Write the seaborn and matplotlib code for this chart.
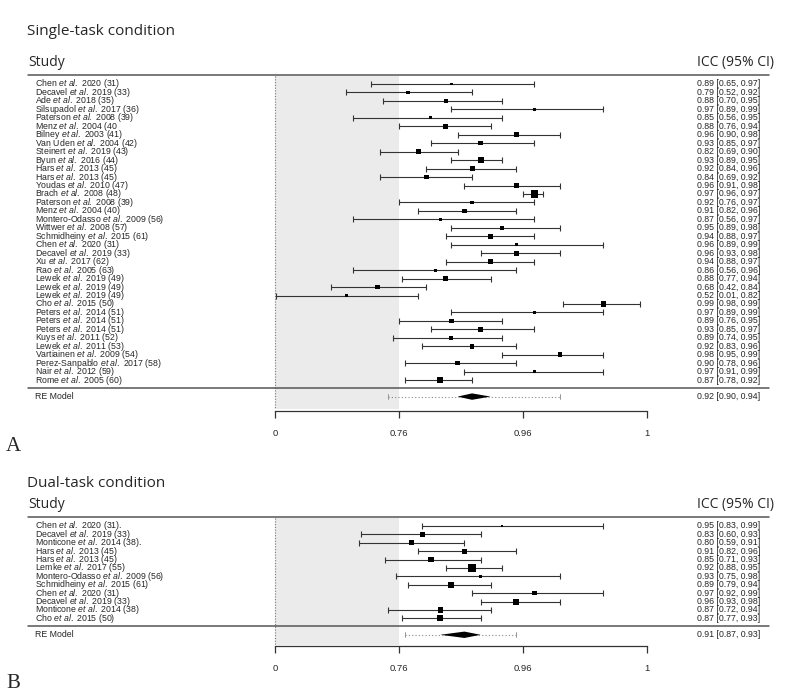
import numpy as np
import pandas as pd
import seaborn as sns
import matplotlib.pyplot as plt


# single-task condition
single_authors = [
    "Chen", "Decavel", "Ade", "Silsupadol", "Paterson", "Menz", "Bilney",
    "Van Uden", "Steinert", "Byun", "Hars", "Hars", "Youdas", "Brach",
    "Paterson", "Menz", "Montero-Odasso", "Wittwer", "Schmidheiny", "Chen",
    "Decavel", "Xu", "Rao", "Lewek", "Lewek", "Lewek", "Cho", "Peters",
    "Peters", "Peters", "Kuys", "Lewek", "Vartiainen", "Perez-Sanpablo",
    "Nair", "Rome",
]
single_years = [
    "2020 (31)", "2019 (33)", "2018 (35)", "2017 (36)", "2008 (39)", "2004 (40",
    "2003 (41)", "2004 (42)", "2019 (43)", "2016 (44)", "2013 (45)", "2013 (45)",
    "2010 (47)", "2008 (48)", "2008 (39)", "2004 (40)", "2009 (56)", "2008 (57)",
    "2015 (61)", "2020 (31)", "2019 (33)", "2017 (62)", "2005 (63)", "2019 (49)",
    "2019 (49)", "2019 (49)", "2015 (50)", "2014 (51)", "2014 (51)", "2014 (51)",
    "2011 (52)", "2011 (53)", "2009 (54)", "2017 (58)", "2012 (59)", "2005 (60)",
]
single_icc = [0.89, 0.79, 0.88, 0.97, 0.85, 0.88, 0.96, 0.93, 0.82, 0.93, 0.92, 0.84,
              0.96, 0.970, 0.92, 0.91, 0.87, 0.95, 0.94, 0.96, 0.96, 0.94, 0.86, 0.88,
              0.68, 0.52, 0.990, 0.97, 0.89, 0.93, 0.89, 0.92, 0.98, 0.90, 0.97, 0.87]
single_lo = [0.65, 0.52, 0.70, 0.89, 0.56, 0.76, 0.90, 0.85, 0.69, 0.89, 0.84, 0.69,
             0.91, 0.964, 0.76, 0.82, 0.56, 0.89, 0.88, 0.89, 0.93, 0.88, 0.56, 0.77,
             0.42, 0.01, 0.981, 0.89, 0.76, 0.85, 0.74, 0.83, 0.95, 0.78, 0.91, 0.78]
single_hi = [0.97, 0.92, 0.95, 0.99, 0.95, 0.94, 0.98, 0.97, 0.90, 0.95, 0.96, 0.92,
             0.98, 0.974, 0.97, 0.96, 0.97, 0.98, 0.97, 0.99, 0.98, 0.97, 0.96, 0.94,
             0.84, 0.82, 0.9945, 0.99, 0.95, 0.97, 0.95, 0.96, 0.99, 0.96, 0.99, 0.92]
single_re = [0.92, 0.90, 0.94]
single_pi = [0.72, 0.98]

# dual-task condition
dual_authors = [
    "Chen", "Decavel", "Monticone", "Hars", "Hars", "Lemke", "Montero-Odasso",
    "Schmidheiny", "Chen", "Decavel", "Monticone", "Cho",
]
dual_years = [
    "2020 (31).", "2019 (33)", "2014 (38).", "2013 (45)", "2013 (45)", "2017 (55)",
    "2009 (56)", "2015 (61)", "2020 (31)", "2019 (33)", "2014 (38)", "2015 (50)",
]
dual_icc = [0.95, 0.83, 0.80, 0.91, 0.85, 0.92, 0.93, 0.89, 0.97, 0.96, 0.87, 0.87]
dual_lo = [0.83, 0.60, 0.59, 0.82, 0.71, 0.88, 0.75, 0.79, 0.92, 0.93, 0.72, 0.77]
dual_hi = [0.99, 0.93, 0.91, 0.96, 0.93, 0.95, 0.98, 0.94, 0.99, 0.98, 0.94, 0.93]
dual_re = [0.91, 0.87, 0.93]
dual_pi = [0.78, 0.96]

tick_z = [0, 1, 2, 3]

sns.set_style("white")
plt.rcParams["font.family"] = ["Liberation Sans", "DejaVu Sans"]
plt.rcParams["mathtext.fontset"] = "custom"
plt.rcParams["mathtext.rm"] = "Liberation Sans"
plt.rcParams["mathtext.it"] = "Liberation Sans:italic"

XLIM = (-275 / 124, (798 - 275) / 124)
SMALL = 6.3
LINE_C = "#555555"


def fmt(v):
    return f"{v:.2f}"


def forest(ax, authors, years, icc, lo, hi, re, pi, title, letter,
           ylim, title_y, axis_y):
    n = len(authors)
    df = pd.DataFrame({
        "label": [f"{a} $\\it{{et\\ al.}}$ {y}" for a, y in zip(authors, years)],
        "z": np.arctanh(icc),
        "zlo": np.arctanh(lo),
        "zhi": np.arctanh(hi),
        "row": np.arange(n),
    })
    se = (df["zhi"] - df["zlo"]) / 3.92
    df["w"] = np.sqrt(1 / (se ** 2 + 0.02))

    ax.set_xlim(*XLIM)
    ax.set_ylim(*ylim)

    # shaded poor/moderate region and null line
    ax.fill_between([0, 1], -1.0, axis_y - 0.15, color="#ebebeb", lw=0, zorder=0)
    ax.plot([0, 0], [-1.0, axis_y - 0.15], color="#777777", lw=0.8, ls=(0, (1, 1.5)), zorder=1)

    ax.errorbar(df["z"], df["row"], xerr=[df["z"] - df["zlo"], df["zhi"] - df["z"]],
                fmt="none", ecolor="#333333", elinewidth=0.8, capsize=2.2,
                capthick=0.8, zorder=2)
    sns.scatterplot(data=df, x="z", y="row", size="w", sizes=(3, 26), marker="s",
                    color="black", edgecolor="none", legend=False, ax=ax, zorder=3)

    # RE model: prediction interval + diamond
    yr = n + 0.95
    zpi = np.arctanh(pi)
    ax.plot(zpi, [yr, yr], color="#888888", lw=0.8, ls=(0, (1, 2)), zorder=2)
    for zp in zpi:
        ax.plot([zp, zp], [yr - 0.3, yr + 0.3], color="#888888", lw=0.6)
    ze, zl, zh = np.arctanh(re)
    ax.fill([zl, ze, zh, ze], [yr, yr - 0.38, yr, yr + 0.38], color="black", lw=0, zorder=3)

    # rules
    ax.plot([-1.99, 3.98], [-1.05, -1.05], color=LINE_C, lw=1.1)
    ax.plot([-1.99, 3.98], [n - 0.05, n - 0.05], color=LINE_C, lw=1.1)

    # text columns
    for _, r in df.iterrows():
        ax.text(-1.935, r["row"], r["label"], fontsize=SMALL, va="center", ha="left")
    for i in range(n):
        ax.text(3.40, i, f"{fmt(icc[i])} [{fmt(lo[i])}, {fmt(hi[i])}]",
                fontsize=SMALL, va="center", ha="left")
    ax.text(-1.935, yr, "RE Model", fontsize=SMALL, va="center", ha="left")
    ax.text(3.40, yr, f"{fmt(re[0])} [{fmt(re[1])}, {fmt(re[2])}]",
            fontsize=SMALL, va="center", ha="left")

    ax.text(-1.99, -2.6, "Study", fontsize=10, family="Open Sans", va="center", ha="left")
    ax.text(3.40, -2.6, "ICC (95% CI)", fontsize=10, family="Open Sans", va="center", ha="left")
    ax.text(-2.0, title_y, title, fontsize=11, family="Open Sans", va="center", ha="left")
    ax.text(-2.17, n + 6.8, letter, fontsize=15, family="Liberation Serif", va="center", ha="left")

    # x axis on transformed scale
    for s in ["top", "left", "right"]:
        ax.spines[s].set_visible(False)
    ax.spines["bottom"].set_position(("data", axis_y))
    ax.spines["bottom"].set_bounds(0, 3)
    ax.spines["bottom"].set_color("#333333")
    ax.spines["bottom"].set_linewidth(0.9)
    ax.set_xticks(tick_z)
    ax.set_xticklabels([f"{t:.2f}".rstrip("0").rstrip(".") for t in np.tanh(tick_z)])
    ax.tick_params(axis="x", direction="out", length=5, width=0.9, color="#333333",
                   pad=8, labelsize=6.8, bottom=True)
    ax.set_yticks([])
    ax.set_xlabel("")
    ax.set_ylabel("")


fig = plt.figure(figsize=(7.98, 7.0), dpi=100)
ax_a = fig.add_axes([0, 245 / 700, 1, 455 / 700])
ax_b = fig.add_axes([0, 0, 1, 245 / 700])

forest(ax_a, single_authors, single_years, single_icc, single_lo, single_hi,
       single_re, single_pi, "Single-task condition", "A",
       ylim=((455 - 84) / 8.46, -84 / 8.46), title_y=-6.2, axis_y=38.6)
forest(ax_b, dual_authors, dual_years, dual_icc, dual_lo, dual_hi,
       dual_re, dual_pi, "Dual-task condition", "B",
       ylim=((700 - 526) / 8.4, -(526 - 455) / 8.4), title_y=-5.1, axis_y=14.3)

fig.savefig("out.png", dpi=100)
